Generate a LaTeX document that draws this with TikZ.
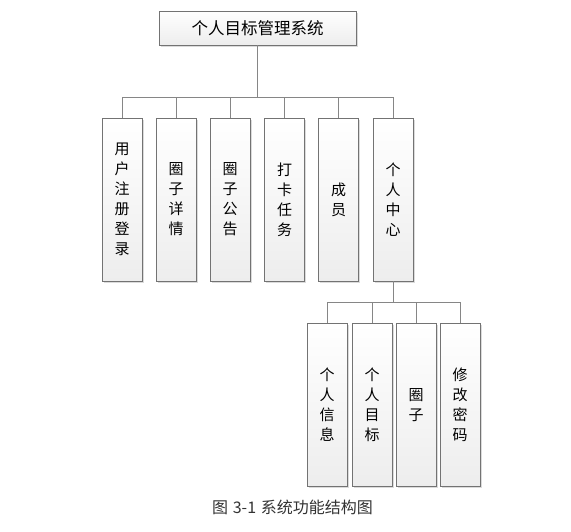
\documentclass[tikz,border=0pt]{standalone}
\usepackage{fontspec}
\setmainfont{Noto Sans CJK SC}
\usetikzlibrary{shadows}

\tikzset{
  funcbox/.style={draw=gray!90!black, line width=0.8pt, top color=white, bottom color=gray!14,
    drop shadow={shadow xshift=1.6pt, shadow yshift=-1.6pt, fill=gray!35, opacity=0.8},
    inner sep=0pt, align=center, font=\fontsize{15}{20}\selectfont},
  modbox/.style={funcbox, minimum width=40pt, minimum height=163pt},
  link/.style={draw=gray!95, line width=0.9pt}
}

\begin{document}
\begin{tikzpicture}[x=1pt,y=-1pt]
		\useasboundingbox (0,0) rectangle (571,532);
		\node[funcbox, minimum width=197pt, minimum height=34pt, font=\fontsize{16.5}{18}\selectfont] (root) at (257.5,28) {个人目标管理系统};
		\node[modbox] (reg) at (122,199.5) {用\\户\\注\\册\\登\\录};
		\node[modbox] (detail) at (176,199.5) {圈\\子\\详\\情};
		\node[modbox] (notice) at (230,199.5) {圈\\子\\公\\告};
		\node[modbox] (task) at (284.5,199.5) {打\\卡\\任\\务};
		\node[modbox] (member) at (338.5,199.5) {成\\员};
		\node[modbox] (center) at (393,199.5) {个\\人\\中\\心};
		\node[modbox] (info) at (327,405) {个\\人\\信\\息};
		\node[modbox] (goal) at (372,405) {个\\人\\目\\标};
		\node[modbox] (circle) at (416,405) {圈\\子};
		\node[modbox] (pwd) at (460,405) {修\\改\\密\\码};
		\coordinate (bus1) at (257.5,97);
		\coordinate (bus2) at (393,302);
		\draw[link] (root) -- (bus1);
		\draw[link] (bus1) -| (reg);
		\draw[link] (bus1) -| (detail);
		\draw[link] (bus1) -| (notice);
		\draw[link] (bus1) -| (task);
		\draw[link] (bus1) -| (member);
		\draw[link] (bus1) -| (center);
		\draw[link] (center) -- (bus2);
		\draw[link] (bus2) -| (info);
		\draw[link] (bus2) -| (goal);
		\draw[link] (bus2) -| (circle);
		\draw[link] (bus2) -| (pwd);
		\node[font=\fontsize{16}{18}\selectfont, text=black!80] (caption) at (292.5,507) {图\hspace{0.3em}3-1\hspace{0.3em}系统功能结构图};
	\end{tikzpicture}
\end{document}
